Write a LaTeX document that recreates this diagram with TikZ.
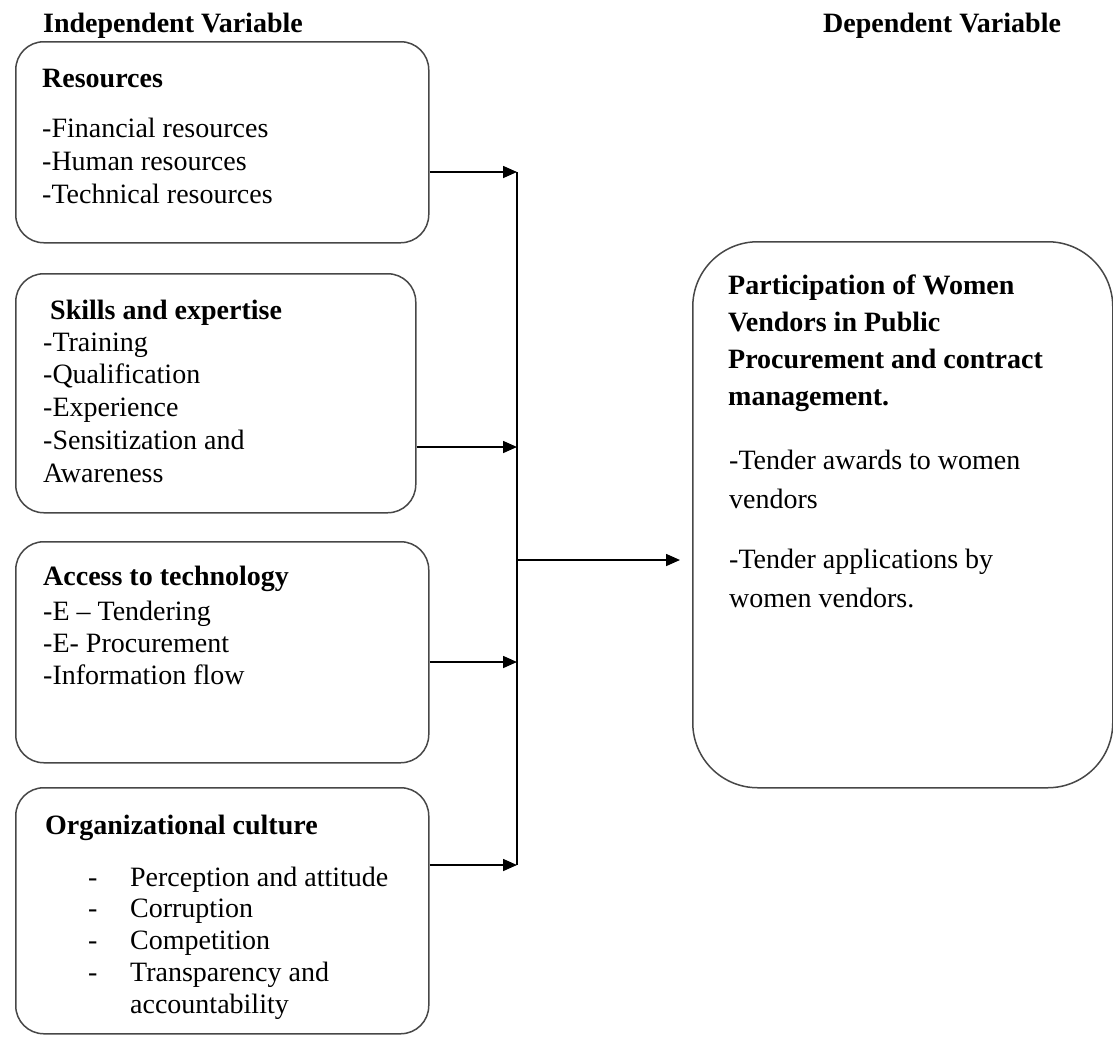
\documentclass[tikz,border=0pt]{standalone}
\usepackage{fontspec}
\setmainfont{Liberation Serif}
\usetikzlibrary{arrows.meta}
\begin{document}
\begin{tikzpicture}[x=1pt,y=-1pt,
  box/.style={draw=black!72, line width=1.5pt, rounded corners=28pt, anchor=north west, inner sep=0pt},
  bigbox/.style={box, rounded corners=65pt},
  txt/.style={anchor=base west, inner sep=0pt, align=left, font=\fontsize{28}{33}\selectfont},
  ttl/.style={txt, font=\fontsize{28}{33}\selectfont\bfseries},
  arr/.style={line width=1.6pt, -{Triangle[length=14pt,width=12pt]}},
  ln/.style={line width=1.6pt}]
\useasboundingbox (0,0) rectangle (1113,1036);
% headings
\node[ttl] (h1) at (43,32) {Independent Variable};
\node[ttl] (h2) at (823,32) {Dependent Variable};
% boxes
\node[box, minimum width=413pt, minimum height=201pt] (b1) at (15,41) {};
\node[box, minimum width=400pt, minimum height=239pt] (b2) at (15,273) {};
\node[box, minimum width=413pt, minimum height=221pt] (b3) at (15,541) {};
\node[box, minimum width=413pt, minimum height=246pt] (b4) at (15,787) {};
\node[bigbox, minimum width=420pt, minimum height=546pt] (b5) at (692,241) {};
% box 1 (multi-line nodes are placed by the baseline of their last line)
\node[ttl] (t1) at (42,87) {Resources};
\node[txt, font=\fontsize{28}{33}\selectfont] (l1) at (42,203) {-Financial resources\\-Human resources\\-Technical resources};
% box 2
\node[ttl] (t2) at (50,319) {Skills and expertise};
\node[txt, font=\fontsize{28}{32.8}\selectfont] (l2) at (43,482.2) {-Training\\-Qualification\\-Experience\\-Sensitization and\\Awareness};
% box 3
\node[ttl] (t3) at (43,585) {Access to technology};
\node[txt, font=\fontsize{28}{32}\selectfont] (l3) at (43,684) {-E -- Tendering\\-E- Procurement\\-Information flow};
% box 4
\node[ttl] (t4) at (45,834) {Organizational culture};
\node[txt, font=\fontsize{28}{31.8}\selectfont] (l4) at (88,1013.2) {\makebox[42pt][l]{-}Perception and attitude\\\makebox[42pt][l]{-}Corruption\\\makebox[42pt][l]{-}Competition\\\makebox[42pt][l]{-}Transparency and\\\makebox[42pt][l]{}accountability};
% box 5
\node[ttl, font=\fontsize{28}{37.3}\selectfont\bfseries] (t5) at (728,405.9) {Participation of Women\\Vendors in Public\\Procurement and contract\\management.};
\node[txt, font=\fontsize{28}{39}\selectfont] (l5a) at (729,508) {-Tender awards to women\\vendors};
\node[txt, font=\fontsize{28}{39}\selectfont] (l5b) at (729,607) {-Tender applications by\\women vendors.};
% connectors
\coordinate (j1) at (517,172);
\coordinate (j2) at (517,447);
\coordinate (j3) at (517,662);
\coordinate (j4) at (517,865);
\coordinate (jm) at (517,560);
\draw[arr] (b1.east |- j1) -- (j1);
\draw[arr] (b2.east |- j2) -- (j2);
\draw[arr] (b3.east |- j3) -- (j3);
\draw[arr] (b4.east |- j4) -- (j4);
\draw[ln] (j1) -- (j4);
\draw[arr, shorten >=12pt] (jm) -- (b5.west |- jm);
\end{tikzpicture}
\end{document}
